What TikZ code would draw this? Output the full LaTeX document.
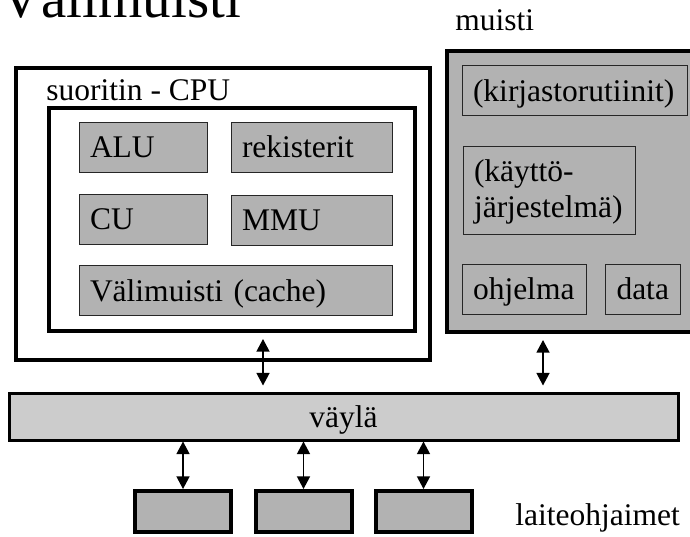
\documentclass[tikz,border=0pt]{standalone}
\usepackage{fontspec}
\setmainfont{Liberation Serif}
\usetikzlibrary{arrows.meta}

\begin{document}
\begin{tikzpicture}[x=0.5pt,y=-0.5pt,
  every node/.style={font=\fontsize{15.75pt}{18pt}\selectfont},
  >={Triangle[length=6.3pt,width=6.5pt]},
  frame/.style={draw,line width=2pt,inner sep=0pt},
  cell/.style={draw=black!85,line width=0.5pt,fill=gray!60,inner xsep=5.5pt,inner ysep=0pt,minimum height=25pt,align=left,text height=10.7pt,text depth=0pt},
  unit/.style={frame,fill=gray!60,minimum width=48pt,minimum height=20.5pt},
  link/.style={<->,line width=0.75pt}]
\useasboundingbox (0,0) rectangle (690,536);
\node[anchor=base west,inner sep=0pt,font=\fontsize{28.5pt}{30pt}\selectfont] (title) at (0,17) {Välimuisti};

\node[frame,minimum width=207pt,minimum height=146pt] (cpu) at (223,214) {};
\node[frame,minimum width=183pt,minimum height=111.5pt] (core) at (232,219.5) {};
\node[anchor=base west,inner sep=0pt] (cpulabel) at (46,100) {suoritin - CPU};
\node[cell,text width=53pt] (alu) at (143,147) {ALU};
\node[cell,text width=69.5pt] (reg) at (311.5,147) {rekisterit};
\node[cell,text width=53pt] (cu) at (143,219) {CU};
\node[cell,text width=69.5pt] (mmu) at (311.5,220) {MMU};
\node[cell,text width=145.5pt] (cache) at (235.5,290.5) {Välimuisti (cache)};

\node[frame,fill=gray!60,minimum width=126.5pt,minimum height=140.5pt] (mem) at (573.5,191.5) {};
\node[anchor=base west,inner sep=0pt] (memlabel) at (455,30) {muisti};
\node[cell,text width=101.5pt] (lib) at (574.5,90.5) {(kirjastorutiinit)};
\node[cell,text width=75pt,minimum height=44pt,text depth=19pt] (os) at (549,190) {(käyttö-\\järjestelmä)};
\node[cell,text width=51pt] (prog) at (524,289) {ohjelma};
\node[cell,text width=26.5pt] (data) at (643,289) {data};

\node[frame,line width=1.5pt,fill=gray!40,minimum width=334.5pt,minimum height=23.5pt,text height=10.7pt,text depth=0pt] (bus) at (343.5,416.5) {väylä};

\node[unit] (dev1) at (183,511.5) {};
\node[unit] (dev2) at (303.5,511.5) {};
\node[unit] (dev3) at (423.5,511.5) {};
\node[anchor=base west,inner sep=0pt] (devlabel) at (515,525) {laiteohjaimet};

\draw[link,shorten <=3pt,shorten >=3pt] ([xshift=15.5pt]core.south) coordinate (cpuport) -- (cpuport |- bus.north);
\draw[link,shorten <=3pt,shorten >=3pt] ([xshift=-15.25pt]mem.south) coordinate (memport) -- (memport |- bus.north);
\draw[link] (dev1.north |- bus.south) -- (dev1.north);
\draw[link] (dev2.north |- bus.south) -- (dev2.north);
\draw[link] (dev3.north |- bus.south) -- (dev3.north);
\end{tikzpicture}
\end{document}
